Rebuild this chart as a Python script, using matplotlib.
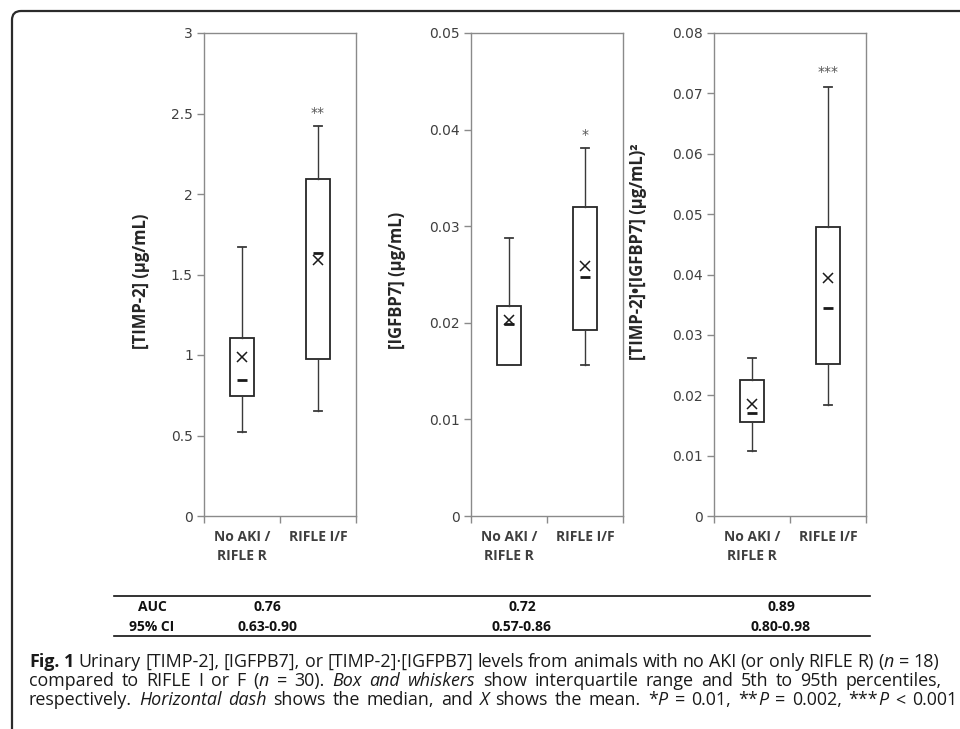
import matplotlib
matplotlib.use("Agg")
import matplotlib.pyplot as plt
from matplotlib.patches import FancyBboxPatch
from matplotlib.lines import Line2D

# ---------------- data ----------------
groups = ["No AKI /\nRIFLE R", "RIFLE I/F"]

ylabels = ["[TIMP-2] (µg/mL)", "[IGFBP7] (µg/mL)", "[TIMP-2]•[IGFBP7] (µg/mL)²"]
ymax = [3.0, 0.05, 0.08]
ystep = [0.5, 0.01, 0.01]
ytick_labels = [["0", "0.5", "1", "1.5", "2", "2.5", "3"],
                ["0", "0.01", "0.02", "0.03", "0.04", "0.05"],
                ["0", "0.01", "0.02", "0.03", "0.04", "0.05", "0.06", "0.07", "0.08"]]

timp2_p5 = [0.52, 0.65]
timp2_q1 = [0.745, 0.975]
timp2_med = [0.845, 1.635]
timp2_mean = [0.985, 1.59]
timp2_q3 = [1.105, 2.095]
timp2_p95 = [1.67, 2.42]

igfbp7_p5 = [0.0156, 0.0156]
igfbp7_q1 = [0.0156, 0.0193]
igfbp7_med = [0.0199, 0.0247]
igfbp7_mean = [0.0203, 0.0259]
igfbp7_q3 = [0.0217, 0.0320]
igfbp7_p95 = [0.0288, 0.0381]

prod_p5 = [0.0108, 0.0184]
prod_q1 = [0.0156, 0.0252]
prod_med = [0.0171, 0.0344]
prod_mean = [0.0186, 0.0394]
prod_q3 = [0.0225, 0.0479]
prod_p95 = [0.0261, 0.0711]

sig_labels = ["**", "*", "***"]
sig_y = [2.50, 0.0394, 0.0736]

auc_labels = ["AUC", "95% CI"]
auc_values = ["0.76", "0.72", "0.89"]
auc_ci = ["0.63-0.90", "0.57-0.86", "0.80-0.98"]

# ---------------- figure ----------------
W, H = 960, 729
fig = plt.figure(figsize=(W / 100, H / 100), dpi=100)
fig.patch.set_facecolor("white")

def fx(x):
    return x / W

def fy(y):
    return 1 - y / H

border = FancyBboxPatch((12 / 100, -1.0), 12.0, (H - 11) / 100 + 1.0,
                        boxstyle="round,pad=0,rounding_size=0.09",
                        transform=fig.dpi_scale_trans, facecolor="none",
                        edgecolor="#2b2b2b", linewidth=1.6, zorder=0)
fig.patches.append(border)

panels = [
    (timp2_p5, timp2_q1, timp2_med, timp2_mean, timp2_q3, timp2_p95),
    (igfbp7_p5, igfbp7_q1, igfbp7_med, igfbp7_mean, igfbp7_q3, igfbp7_p95),
    (prod_p5, prod_q1, prod_med, prod_mean, prod_q3, prod_p95),
]
ax_left = [204, 471, 714]
ax_w = 152
ax_top, ax_bot = 33, 516
ylabel_x = [141, 397, 638]
ylabel_y = [281, 280, 252]

spine_c = "#8a8a8a"
tick_c = "#3f3f3f"
box_c = "#262626"
lab_font = "Open Sans"

for i, (p5, q1, med, mean, q3, p95) in enumerate(panels):
    ax = fig.add_axes([fx(ax_left[i]), fy(ax_bot), ax_w / W, (ax_bot - ax_top) / H])
    stats = []
    for g in range(len(groups)):
        stats.append(dict(med=med[g], q1=q1[g], q3=q3[g], whislo=p5[g],
                          whishi=p95[g], mean=mean[g], fliers=[]))
    pos = [1, 2]
    ax.bxp(stats, positions=pos, widths=0.31, showmeans=False, showfliers=False,
           patch_artist=True, capwidths=0.1,
           boxprops=dict(facecolor="white", edgecolor=box_c, linewidth=1.3),
           whiskerprops=dict(color="#3a3a3a", linewidth=1.0),
           capprops=dict(color="#3a3a3a", linewidth=1.3),
           medianprops=dict(visible=False))
    ax.plot(pos, med, linestyle="none", marker="_", markersize=6.5,
            markeredgewidth=2.0, color="#1a1a1a", zorder=5)
    ax.plot(pos, mean, linestyle="none", marker="x", markersize=6.5,
            markeredgewidth=1.1, color="#1a1a1a", zorder=5)
    ax.text(2, sig_y[i], sig_labels[i], ha="center", va="center",
            fontsize=10, color="#555555", fontfamily="DejaVu Sans")

    ax.set_xlim(0.5, 2.5)
    ax.set_ylim(0, ymax[i])
    n = len(ytick_labels[i])
    ax.set_yticks([k * ystep[i] for k in range(n)])
    ax.set_yticklabels(ytick_labels[i], fontsize=10, color=tick_c,
                       fontfamily="DejaVu Sans")
    ax.set_xticks([0.5, 1.5, 2.5])
    ax.set_xticklabels([])
    ax.set_xticks(pos, minor=True)
    ax.set_xticklabels(groups, minor=True, fontsize=10, fontweight="bold",
                       fontfamily=lab_font, color=tick_c, linespacing=1.45)
    ax.tick_params(axis="x", which="minor", length=0, pad=10)
    ax.tick_params(axis="both", which="major", direction="out", length=5,
                   width=1.0, color=spine_c, pad=3)
    for s in ax.spines.values():
        s.set_color(spine_c)
        s.set_linewidth(1.0)
    fig.text(fx(ylabel_x[i]), fy(ylabel_y[i]), ylabels[i],
             rotation=90, ha="center", va="center", fontsize=12,
             fontweight="bold", fontfamily=lab_font, color="#262626")

# ---------------- AUC table ----------------
tbl_x0, tbl_x1 = 114, 870
fig.add_artist(Line2D([fx(tbl_x0), fx(tbl_x1)], [fy(596), fy(596)],
                      color="#111111", linewidth=1.2))
fig.add_artist(Line2D([fx(tbl_x0), fx(tbl_x1)], [fy(636), fy(636)],
                      color="#111111", linewidth=1.2))
col_x = [152, 267, 522, 781]
row_y = [607, 627]
for r, lab in enumerate(auc_labels):
    fig.text(fx(col_x[0]), fy(row_y[r]), lab, ha="center", va="center",
             fontsize=10, fontweight="bold", fontfamily=lab_font, color="#111111")
for c in range(3):
    fig.text(fx(col_x[c + 1]), fy(row_y[0]), auc_values[c], ha="center", va="center",
             fontsize=10, fontweight="bold", fontfamily=lab_font, color="#111111")
    fig.text(fx(col_x[c + 1]), fy(row_y[1]), auc_ci[c], ha="center", va="center",
             fontsize=10, fontweight="bold", fontfamily=lab_font, color="#111111")

# ---------------- caption (justified runs) ----------------
N, I, B = "normal", "italic", "bold"
cap_lines = [
    [("Fig. 1", B), (" Urinary [TIMP-2], [IGFPB7], or [TIMP-2]·[IGFPB7] levels from animals with no AKI (or only RIFLE R) (", N), ("n", I), (" = 18)", N)],
    [("compared to RIFLE I or F (", N), ("n", I), (" = 30). ", N), ("Box and whiskers", I), (" show interquartile range and 5th to 95th percentiles,", N)],
    [("respectively. ", N), ("Horizontal dash", I), (" shows the median, and ", N), ("X", I), (" shows the mean. *", N), ("P", I), (" = 0.01, **", N), ("P", I), (" = 0.002, ***", N), ("P", I), (" < 0.001", N)],
]
cap_y = [667, 686, 705]
cap_x0 = 29
cap_x1 = [939, 942, 957]
cap_font = "Open Sans"
renderer = fig.canvas.get_renderer()

def style_kw(style, size):
    kw = dict(fontsize=size, fontfamily=cap_font)
    if style == B:
        kw["fontweight"] = "bold"
    if style == I:
        kw["fontstyle"] = "italic"
    return kw

def run_width(s, style, size):
    kw = style_kw(style, size)
    t1 = fig.text(0, 0, "|" + s + "|", **kw)
    t2 = fig.text(0, 0, "||", **kw)
    w = t1.get_window_extent(renderer).width - t2.get_window_extent(renderer).width
    t1.remove()
    t2.remove()
    return w

def tokenize(line):
    items = []  # ("w", text, style) or ("g",)
    for s, st in line:
        parts = s.split(" ")
        for k, p in enumerate(parts):
            if k > 0:
                items.append(("g",))
            if p:
                items.append(("w", p, st))
    return items

base = 10.0
ratios = []
for line, x1 in zip(cap_lines, cap_x1):
    nat = sum(run_width(s, st, base) for s, st in line)
    ratios.append((x1 - cap_x0) / nat)
cap_size = base * min(ratios)

for line, y, x1 in zip(cap_lines, cap_y, cap_x1):
    items = tokenize(line)
    total = sum(run_width(it[1], it[2], cap_size) for it in items if it[0] == "w")
    ngap = sum(1 for it in items if it[0] == "g")
    gap = (x1 - cap_x0 - total) / ngap
    x = cap_x0
    for it in items:
        if it[0] == "g":
            x += gap
        else:
            fig.text(fx(x), fy(y), it[1], ha="left", va="baseline",
                     color="#1a1a1a", **style_kw(it[2], cap_size))
            x += run_width(it[1], it[2], cap_size)

fig.savefig("out.png", dpi=100, facecolor="white")
